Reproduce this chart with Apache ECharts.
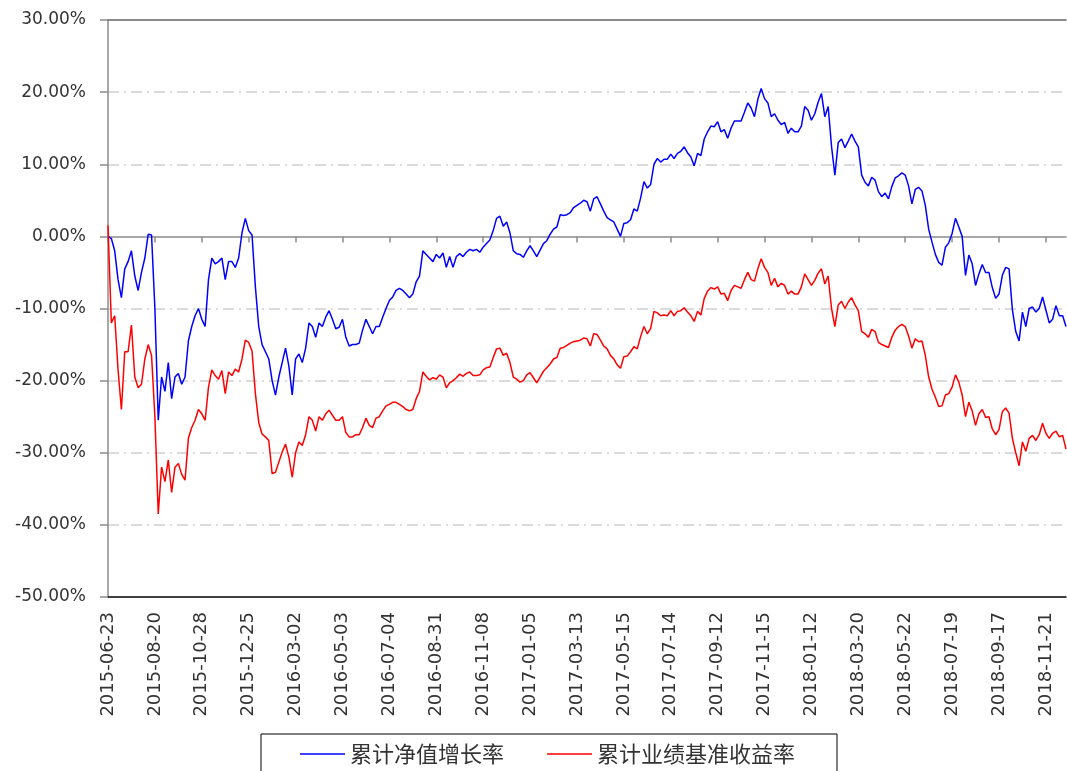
<!DOCTYPE html>
<html>
<head>
<meta charset="utf-8">
<script src="https://cdn.jsdelivr.net/npm/echarts@6/dist/echarts.min.js"></script>
<style>
html,body{margin:0;padding:0;background:#fff;}
#chart{width:1067px;height:771px;}
</style>
</head>
<body>
<div id="chart"></div>
<script>
// Tick labels shown on the category axis (one every 42 trading days)
const tickDates = ['2015-06-23','2015-08-20','2015-10-28','2015-12-25','2016-03-02','2016-05-03','2016-07-04','2016-08-31','2016-11-08','2017-01-05','2017-03-13','2017-05-15','2017-07-14','2017-09-12','2017-11-15','2018-01-12','2018-03-20','2018-05-22','2018-07-19','2018-09-17','2018-11-21'];
// samples every 3 trading days -> 14 samples between labelled dates
const samplesPerTick = 14;
const daysPerSample = 3;

// 累计净值增长率 (%)
const navGrowth = [
  0, -0.3, -2, -6, -8.5, -4.5, -3.5, -2, -5.5, -7.5, -5, -3, 0.3, 0.2,
  -10, -25.5, -19.5, -21.5, -17.5, -22.5, -19.5, -19, -20.5, -19.5, -14.5, -12.5, -11, -10,
  -11.5, -12.5, -6, -3, -3.8, -3.5, -3, -6, -3.5, -3.5, -4.3, -3, 0.5, 2.5,
  0.8, 0.2, -7, -12.5, -15, -16, -17, -20, -22, -19.5, -17.5, -15.5, -18, -22,
  -17, -16.3, -17.5, -15.5, -12, -12.5, -14, -12, -12.5, -11.2, -10.3, -11.5, -12.8, -12.6,
  -11.5, -14, -15.2, -15, -15, -14.8, -13, -11.5, -12.5, -13.5, -12.5, -12.5, -11.2, -10,
  -8.9, -8.4, -7.5, -7.2, -7.5, -8, -8.5, -8, -6.3, -5.5, -2, -2.5, -3, -3.5,
  -2.5, -3, -2.3, -4.3, -2.8, -4.3, -2.8, -2.4, -2.8, -2.2, -1.8, -2, -1.8, -2.2,
  -1.5, -1, -0.5, 0.8, 2.5, 2.8, 1.4, 2, 0.5, -2, -2.4, -2.5, -2.9, -2,
  -1.3, -2, -2.8, -1.9, -1, -0.6, 0.3, 1, 1.3, 3, 2.9, 3, 3.3, 4,
  4.3, 4.6, 5, 4.8, 3.5, 5.2, 5.5, 4.5, 3.5, 2.6, 2.3, 2, 1, 0,
  1.8, 1.9, 2.3, 3.8, 3.5, 5.3, 7.6, 6.7, 7.2, 10, 10.8, 10.3, 10.7, 10.7,
  11.4, 10.8, 11.5, 11.8, 12.4, 11.6, 11, 9.8, 11.5, 11.2, 13.5, 14.5, 15.3, 15.2,
  15.9, 14.5, 14.8, 13.6, 15, 16, 16, 16, 17.2, 18.5, 17.8, 16.6, 19, 20.5,
  19.1, 18.5, 16.6, 17, 16.1, 15.5, 15.8, 14.3, 15, 14.5, 14.5, 15.3, 18, 17.5,
  16.1, 17, 18.6, 19.8, 16.6, 18, 12.5, 8.5, 13, 13.5, 12.3, 13.2, 14.2, 13.2,
  12.4, 8.5, 7.5, 7, 8.2, 7.8, 6.2, 5.5, 6, 5.2, 6.9, 8.1, 8.4, 8.8,
  8.5, 7, 4.5, 6.5, 6.8, 6.3, 4.3, 1, -0.8, -2.5, -3.6, -4, -1.5, -0.9,
  0.4, 2.5, 1.3, 0, -5.4, -2.6, -3.8, -6.8, -5.2, -3.9, -5, -5, -7.1, -8.6,
  -8, -5.4, -4.3, -4.5, -10.2, -13.2, -14.5, -10.5, -12.5, -10, -9.8, -10.5, -10, -8.4,
  -10.2, -12, -11.5, -9.6, -11, -11, -12.5
];

// 累计业绩基准收益率 (%)
const benchmark = [
  1.5, -12, -11, -18.5, -24, -16, -16, -12.3, -19.5, -21, -20.5, -17, -15, -16.5,
  -25, -38.5, -32, -34, -31, -35.5, -32, -31.5, -33, -33.8, -28, -26.5, -25.5, -24,
  -24.6, -25.5, -20.9, -18.5, -19.3, -19.8, -18.6, -21.8, -18.8, -19.3, -18.4, -18.8, -17, -14.4,
  -14.7, -15.9, -21.8, -25.8, -27.4, -27.8, -28.3, -32.9, -32.7, -31.3, -29.9, -28.8, -30.6, -33.4,
  -30, -28.5, -29, -27.5, -25, -25.5, -27, -25, -25.5, -24.6, -24.1, -24.8, -25.5, -25.5,
  -25, -27.2, -27.8, -27.8, -27.5, -27.5, -26.5, -25.2, -26.2, -26.5, -25.2, -25, -24.2, -23.5,
  -23.3, -23, -23, -23.3, -23.6, -24, -24.2, -24, -22.5, -21.5, -18.8, -19.4, -19.9, -19.6,
  -19.8, -19.2, -19.5, -21, -20.3, -20, -19.6, -19.1, -19.4, -19, -18.8, -19.3, -19.3, -19.2,
  -18.5, -18.2, -18.1, -16.8, -15.6, -15.5, -16.5, -16.2, -17.5, -19.5, -19.8, -20.2, -20, -19.2,
  -18.9, -19.6, -20.3, -19.5, -18.7, -18.2, -17.7, -17, -16.8, -15.5, -15.4, -15.1, -14.8, -14.6,
  -14.5, -14.4, -14.1, -14.2, -15.2, -13.5, -13.6, -14.4, -15.2, -15.6, -16.5, -17, -17.8, -18.3,
  -16.7, -16.6, -16, -15.3, -15.6, -13.9, -12.5, -13.5, -12.8, -10.4, -10.6, -11, -10.9, -11,
  -10.3, -11, -10.4, -10.3, -9.9, -10.5, -11, -11.8, -10.4, -10.9, -8.6, -7.6, -7.1, -7.3,
  -7, -8, -7.9, -8.9, -7.5, -6.8, -7, -7.2, -6, -5, -6, -6.2, -4.5, -3.1,
  -4.3, -5, -6.8, -5.8, -7, -6.5, -6.8, -8, -7.6, -8, -8, -7, -5.2, -6,
  -6.8, -6.1, -5.1, -4.5, -6.6, -5.5, -10, -12.5, -9.5, -9, -10, -9.1, -8.5, -9.5,
  -10.3, -13.2, -13.5, -14, -12.9, -13.2, -14.7, -15, -15.2, -15.4, -14, -13, -12.5, -12.2,
  -12.5, -13.8, -15.5, -14.2, -14.6, -14.5, -16.5, -19.5, -21.2, -22.3, -23.6, -23.5, -22, -21.8,
  -20.9, -19.2, -20.2, -22, -25, -23, -24.2, -26.2, -24.6, -24, -25.1, -25, -26.7, -27.5,
  -26.8, -24.3, -23.8, -24.5, -28, -30, -31.8, -28.5, -29.8, -28, -27.6, -28.3, -27.5, -25.9,
  -27.3, -28, -27.3, -27, -27.8, -27.6, -29.5
];

const seriesNames = ['累计净值增长率', '累计业绩基准收益率'];

const categories = navGrowth.map(function (_, i) {
  const t = Math.floor(i / samplesPerTick);
  const r = i % samplesPerTick;
  return r === 0 ? tickDates[t] : tickDates[t] + ' +' + (r * daysPerSample) + 'd';
});

const chart = echarts.init(document.getElementById('chart'), null, {renderer: 'canvas'});
const labelFont = 'DejaVu Sans';
const grid = 'rgba(0,0,0,0)';
const gl = '#cfcfcf';

chart.setOption({
  animation: false,
  backgroundColor: '#ffffff',
  textStyle: {fontFamily: labelFont},
  grid: {left: 108, top: 20, right: 1, bottom: 174, containLabel: false},
  legend: {
    left: 261, top: 734,
    padding: [9, 42, 9, 39],
    borderColor: '#000', borderWidth: 1,
    itemWidth: 45, itemHeight: 1.5, itemGap: 43,
    icon: 'rect',
    selectedMode: false,
    textStyle: {fontFamily: 'Noto Sans CJK SC', fontSize: 22, color: '#333'},
    data: seriesNames
  },
  xAxis: [
    {
      type: 'category', data: categories, boundaryGap: false, position: 'bottom',
      axisLine: {onZero: true, lineStyle: {color: '#8c8c8c', width: 1.5}},
      axisTick: {show: true, interval: samplesPerTick - 1, length: 6, lineStyle: {color: '#8c8c8c', width: 1.5}},
      axisLabel: {show: false}, splitLine: {show: false}
    },
    {
      type: 'category', data: categories, boundaryGap: false, position: 'bottom',
      axisLine: {onZero: false, lineStyle: {color: '#000', width: 1.5}},
      axisTick: {show: false},
      axisLabel: {show: true, interval: samplesPerTick - 1, rotate: 90, margin: 15,
        fontFamily: labelFont, fontSize: 18, color: '#333',
        formatter: function (v, i) { return tickDates[i / samplesPerTick] || ''; }},
      splitLine: {show: false}
    },
    {
      type: 'category', data: categories, boundaryGap: false, position: 'top',
      axisLine: {onZero: false, lineStyle: {color: '#666', width: 1.5}},
      axisTick: {show: false}, axisLabel: {show: false}, splitLine: {show: false}
    }
  ],
  yAxis: {
    type: 'value', min: -50, max: 30, interval: 10,
    axisLine: {show: true, lineStyle: {color: '#8c8c8c', width: 1.5}},
    axisTick: {show: true, length: 8, lineStyle: {color: '#8c8c8c', width: 1.5}},
    axisLabel: {margin: 22, fontFamily: labelFont, fontSize: 17, color: '#333',
      formatter: function (v) { return v.toFixed(2) + '%'; }},
    splitLine: {show: true, lineStyle: {
      color: [grid, gl, gl, gl, gl, grid, gl, gl, grid],
      width: 1.5, type: [11, 5, 2, 5]}}
  },
  series: [
    {name: seriesNames[0], type: 'line', data: navGrowth, showSymbol: false, symbol: 'none',
      lineStyle: {color: '#0000ff', width: 1.5}, itemStyle: {color: '#0000ff'}},
    {name: seriesNames[1], type: 'line', data: benchmark, showSymbol: false, symbol: 'none',
      lineStyle: {color: '#ff0000', width: 1.5}, itemStyle: {color: '#ff0000'}}
  ]
});
</script>
</body>
</html>
